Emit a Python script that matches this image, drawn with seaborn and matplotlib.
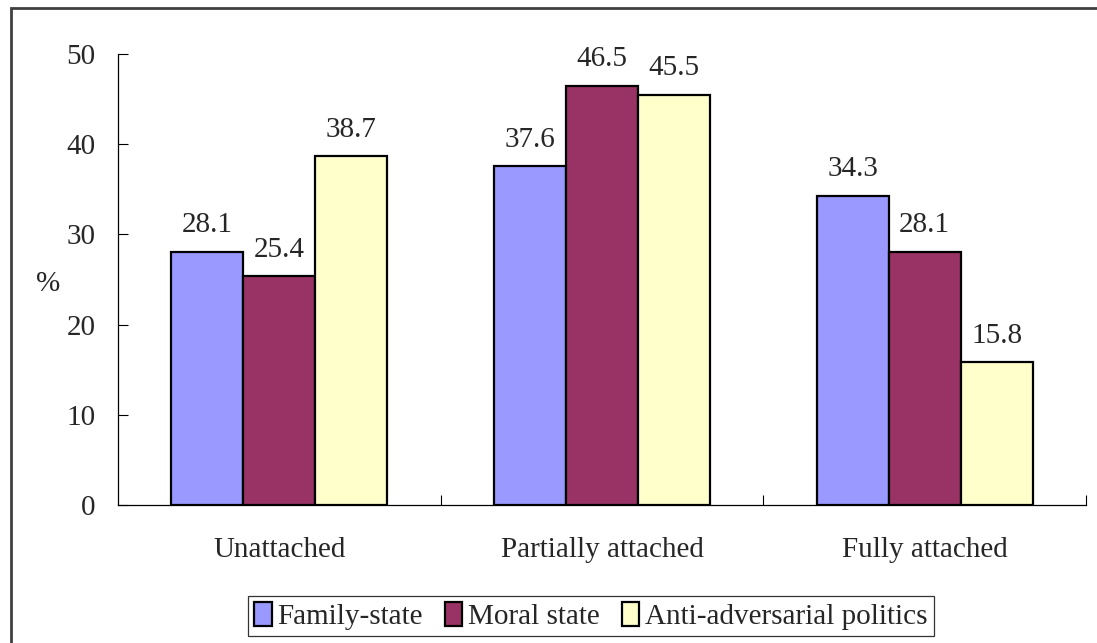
import seaborn as sns
import matplotlib.pyplot as plt
import pandas as pd
from matplotlib.patches import Rectangle

# Data
categories = ["Unattached", "Partially attached", "Fully attached"]
series = ["Family-state", "Moral state", "Anti-adversarial politics"]
family_state = [28.1, 37.6, 34.3]
moral_state = [25.4, 46.5, 28.1]
anti_adversarial = [38.7, 45.5, 15.8]
colors = ["#9999FF", "#993366", "#FFFFCC"]

rows = []
for name, vals in zip(series, [family_state, moral_state, anti_adversarial]):
    for cat, v in zip(categories, vals):
        rows.append({"category": cat, "series": name, "value": v})
df = pd.DataFrame(rows)

sns.set_style("white")
plt.rcParams['font.family'] = ['Liberation Serif', 'DejaVu Serif']
fs = 21

fig = plt.figure(figsize=(10.97, 6.43), dpi=100)
ax = fig.add_axes([118 / 1097, 1 - 505 / 643, (1086 - 118) / 1097, (505 - 54) / 643])

sns.barplot(data=df, x="category", y="value", hue="series", order=categories,
            hue_order=series, palette=colors, edgecolor="black", linewidth=1.6,
            width=0.67, saturation=1, ax=ax)

for cont in ax.containers:
    ax.bar_label(cont, fmt="%.1f", padding=9.5, fontsize=fs)

ax.set_ylim(0, 50)
ax.set_xlim(-0.5, 2.5)
ax.set_yticks([0, 10, 20, 30, 40, 50])
ax.tick_params(axis="y", direction="in", length=7, width=0.8, labelsize=fs, pad=16, left=True, color="black")
ax.tick_params(axis="x", which="major", length=0, labelsize=fs, pad=23)
ax.set_xticks([0.5, 1.5, 2.5], minor=True)
ax.tick_params(axis="x", which="minor", direction="in", length=7, width=0.8, bottom=True, color="black")

ax.set_xlabel("")
ax.set_ylabel("%", fontsize=fs, rotation=0, va="center")
ax.yaxis.set_label_coords(-0.072, 0.49)

for s in ["top", "right"]:
    ax.spines[s].set_visible(False)
for s in ["left", "bottom"]:
    ax.spines[s].set_color("black")
    ax.spines[s].set_linewidth(0.9)

ax.legend_.remove()
handles = [Rectangle((0, 0), 1, 1, facecolor=c, edgecolor="black", linewidth=1.6) for c in colors]
leg = fig.legend(handles, series, loc="center", bbox_to_anchor=(591 / 1097, 1 - 616 / 643),
                 ncol=3, fontsize=fs, frameon=True, fancybox=False, handlelength=0.6,
                 handleheight=0.9, handletextpad=0.2, columnspacing=0.75, borderpad=0.2,
                 borderaxespad=0)
leg.get_frame().set_edgecolor("black")
leg.get_frame().set_linewidth(0.9)

# outer chart border (only top and left visible in the crop)
fig.patches.append(Rectangle((11 / 1097, -0.1), 1.2, 1 - 8 / 643 + 0.1, transform=fig.transFigure,
                             fill=False, edgecolor="#404040", linewidth=2))

fig.savefig("out.png", dpi=100)
